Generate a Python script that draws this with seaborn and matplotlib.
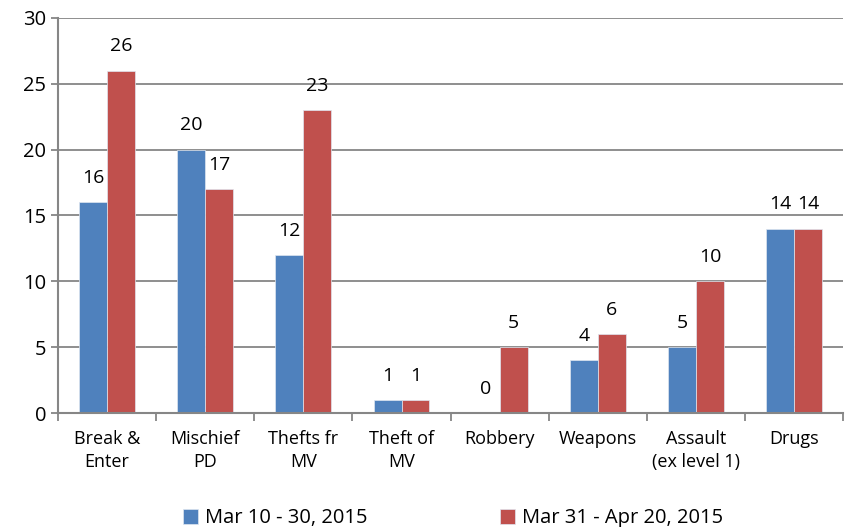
import matplotlib
matplotlib.use('Agg')
import matplotlib.pyplot as plt
import numpy as np
import pandas as pd
import seaborn as sns

categories = ['Break &\nEnter', 'Mischief\nPD', 'Thefts fr\nMV', 'Theft of\nMV',
              'Robbery', 'Weapons', 'Assault\n(ex level 1)', 'Drugs']
period1 = [16, 20, 12, 1, 0, 4, 5, 14]
period2 = [26, 17, 23, 1, 5, 6, 10, 14]
series_names = ['Mar 10 - 30, 2015', 'Mar 31 - Apr 20, 2015']

df = pd.DataFrame({
    'category': categories * 2,
    'count': period1 + period2,
    'period': [series_names[0]] * len(categories) + [series_names[1]] * len(categories),
})

sns.set_style('white')
plt.rcParams['font.family'] = ['Open Sans', 'DejaVu Sans']
plt.rcParams['text.color'] = 'black'
plt.rcParams['xtick.color'] = 'black'
plt.rcParams['ytick.color'] = 'black'
grey = '#868686'

fig = plt.figure(figsize=(8.46, 5.27), dpi=100)
ax = fig.add_axes([0.0686, 0.2163, 0.928, 0.7497])

ax = sns.barplot(data=df, x='category', y='count', hue='period',
                 palette=['#4F81BD', '#C0504D'], saturation=1, width=0.57, ax=ax,
                 edgecolor='#dfe6f0', linewidth=0.5)

for c in ax.containers:
    ax.bar_label(c, padding=11, fontsize=14)

ax.set_ylim(0, 30)
ax.set_yticks(range(0, 31, 5))
ax.set_xlim(-0.5, len(categories) - 0.5)
ax.yaxis.grid(True, color=grey, linewidth=1.3)
ax.set_axisbelow(True)
ax.set_xlabel('')
ax.set_ylabel('')

for s in ['top', 'right']:
    ax.spines[s].set_visible(False)
for s in ['left', 'bottom']:
    ax.spines[s].set_color(grey)
    ax.spines[s].set_linewidth(1.5)

ax.tick_params(axis='y', left=True, length=5, color=grey, width=1.3, labelsize=14.5,
               labelcolor='black')
ax.tick_params(axis='x', which='major', bottom=False, labelsize=13, pad=9,
               labelcolor='black')
for t in ax.get_xticklabels():
    t.set_linespacing(1.35)
ax.set_xticks(np.arange(-0.5, len(categories), 1), minor=True)
ax.tick_params(axis='x', which='minor', bottom=True, length=6, color=grey, width=1.3)

ax.legend(loc='upper center', bbox_to_anchor=(0.503, -0.195), ncol=2, frameon=False,
          fontsize=14.5, handlelength=0.75, handleheight=0.75, handletextpad=0.35,
          columnspacing=6.6)

fig.savefig('out.png', dpi=100)
